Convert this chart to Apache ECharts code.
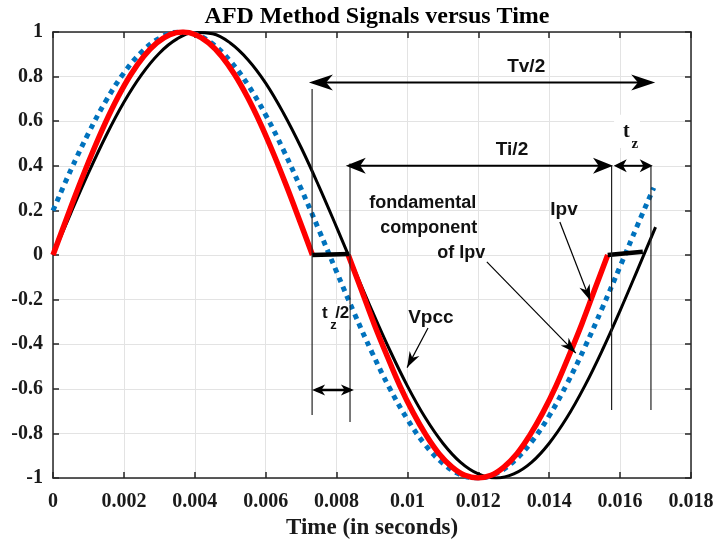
<!DOCTYPE html>
<html>
<head>
<meta charset="utf-8">
<script src="https://cdn.jsdelivr.net/npm/echarts@6/dist/echarts.min.js"></script>
<style>
  html, body { margin: 0; padding: 0; background: #fff; }
  #chart { width: 714px; height: 545px; }
</style>
</head>
<body>
<div id="chart"></div>
<script>
// Grid voltage Vpcc (60 Hz), sampled every 0.5 ms
const timeV = [0, 0.0005, 0.001, 0.0015, 0.002, 0.0025, 0.003, 0.0035, 0.004, 0.0045,
  0.005, 0.0055, 0.006, 0.0065, 0.007, 0.0075, 0.008, 0.0085, 0.009, 0.0095,
  0.01, 0.0105, 0.011, 0.0115, 0.012, 0.0125, 0.013, 0.0135, 0.014, 0.0145,
  0.015, 0.0155, 0.016, 0.0165, 0.017];
const vpcc = [0, 0.187, 0.368, 0.536, 0.685, 0.809, 0.905, 0.969, 0.998, 0.992,
  0.951, 0.876, 0.771, 0.637, 0.482, 0.309, 0.125, -0.063, -0.249, -0.426,
  -0.588, -0.729, -0.844, -0.930, -0.982, -1, -0.982, -0.930, -0.844, -0.729,
  -0.588, -0.426, -0.249, -0.063, 0.125];

// Fundamental component of Ipv
const timeF = [0, 0.0005, 0.001, 0.0015, 0.002, 0.0025, 0.003, 0.0035, 0.004, 0.0045,
  0.005, 0.0055, 0.006, 0.0065, 0.007, 0.0075, 0.008, 0.0085, 0.009, 0.0095,
  0.01, 0.0105, 0.011, 0.0115, 0.012, 0.0125, 0.013, 0.0135, 0.014, 0.0145,
  0.015, 0.0155, 0.016, 0.0165, 0.01695];
const ipvFund = [0.199, 0.380, 0.546, 0.693, 0.816, 0.910, 0.972, 0.999, 0.991, 0.947,
  0.870, 0.763, 0.628, 0.471, 0.297, 0.113, -0.075, -0.261, -0.437, -0.598,
  -0.737, -0.851, -0.934, -0.985, -1.000, -0.980, -0.925, -0.838, -0.721, -0.578,
  -0.415, -0.237, -0.051, 0.137, 0.302];

// Inverter current Ipv: positive half-cycle
const timeI1 = [0, 0.000366, 0.000732, 0.001098, 0.001464, 0.00183, 0.002196, 0.002562,
  0.002928, 0.003294, 0.00366, 0.004026, 0.004392, 0.004758, 0.005124, 0.00549,
  0.005856, 0.006222, 0.006588, 0.006954, 0.00732];
const ipv1 = [0, 0.156, 0.309, 0.454, 0.588, 0.707, 0.809, 0.891, 0.951, 0.988, 1,
  0.988, 0.951, 0.891, 0.809, 0.707, 0.588, 0.454, 0.309, 0.156, 0];

// Inverter current Ipv: negative half-cycle
const timeI2 = [0.00833, 0.0087, 0.00906, 0.00943, 0.00979, 0.01016, 0.01053, 0.01089,
  0.01126, 0.01162, 0.01199, 0.01236, 0.01272, 0.01309, 0.01345, 0.01382,
  0.01419, 0.01455, 0.01492, 0.01528, 0.01565];
const ipv2 = [0, -0.156, -0.309, -0.454, -0.588, -0.707, -0.809, -0.891, -0.951, -0.988, -1,
  -0.988, -0.951, -0.891, -0.809, -0.707, -0.588, -0.454, -0.309, -0.156, 0];

// Dead zones where Ipv is held at zero
const dead1T = [0.00731, 0.00836];
const dead1V = [0, 0.005];
const dead2T = [0.01565, 0.01664];
const dead2V = [0, 0.015];

// Tick labels
const xTickLabels = ['0', '0.002', '0.004', '0.006', '0.008', '0.01', '0.012', '0.014', '0.016', '0.018'];
const yTickLabels = ['-1', '-0.8', '-0.6', '-0.4', '-0.2', '0', '0.2', '0.4', '0.6', '0.8', '1'];

const zip = (xs, ys) => xs.map((x, i) => [x, ys[i]]);

const SERIF = "'Liberation Serif', 'Times New Roman', serif";
const SANS = "'Liberation Sans', Arial, sans-serif";
const AXIS_COLOR = '#262626';

const chart = echarts.init(document.getElementById('chart'), null, { renderer: 'canvas' });

const tickLabelStyle = {
  fontFamily: SERIF, fontWeight: 'bold', fontSize: 20, color: '#1a1a1a'
};

const baseX = {
  type: 'value', min: 0, max: 0.018, interval: 0.002,
  axisLine: { onZero: false, lineStyle: { color: AXIS_COLOR, width: 1.5 } },
  axisTick: { inside: true, length: 6, lineStyle: { color: AXIS_COLOR, width: 1.5 } }
};
const baseY = {
  type: 'value', min: -1, max: 1, interval: 0.2,
  axisLine: { onZero: false, lineStyle: { color: AXIS_COLOR, width: 1.5 } },
  axisTick: { inside: true, length: 6, lineStyle: { color: AXIS_COLOR, width: 1.5 } }
};

chart.setOption({
  animation: false,
  backgroundColor: '#fff',
  title: {
    text: 'AFD Method Signals versus Time',
    left: 372, top: 0, textAlign: 'center',
    textStyle: { fontFamily: SERIF, fontWeight: 'bold', fontSize: 24, color: '#000' }
  },
  grid: { left: 53, right: 23, top: 32, bottom: 67, outerBoundsMode: 'none' },
  xAxis: [
    Object.assign({}, baseX, {
      position: 'bottom',
      name: 'Time (in seconds)', nameLocation: 'middle', nameGap: 39,
      nameTextStyle: { fontFamily: SERIF, fontWeight: 'bold', fontSize: 23, color: '#1a1a1a' },
      axisLabel: Object.assign({ margin: 14, formatter: v => xTickLabels[Math.round(v / 0.002)] }, tickLabelStyle),
      splitLine: { show: true, lineStyle: { color: '#e3e3e3', width: 1 } }
    }),
    Object.assign({}, baseX, {
      position: 'top', axisLabel: { show: false }, splitLine: { show: false }
    })
  ],
  yAxis: [
    Object.assign({}, baseY, {
      position: 'left',
      axisLabel: Object.assign({ margin: 10, formatter: v => yTickLabels[Math.round((v + 1) / 0.2)] }, tickLabelStyle),
      splitLine: { show: true, lineStyle: { color: '#e3e3e3', width: 1 } }
    }),
    Object.assign({}, baseY, {
      position: 'right', axisLabel: { show: false }, splitLine: { show: false }
    })
  ],
  series: [
    {
      name: 'Vpcc', type: 'line', data: zip(timeV, vpcc), showSymbol: false, smooth: 0.4,
      lineStyle: { color: '#000', width: 3 }, z: 2
    },
    {
      name: 'fondamental component of Ipv', type: 'line', data: zip(timeF, ipvFund), showSymbol: false, smooth: 0.4,
      lineStyle: { color: '#0072BD', width: 5, type: [5, 5], cap: 'butt' }, z: 3
    },
    {
      name: 'Ipv', type: 'line', data: zip(timeI1, ipv1), showSymbol: false, smooth: 0.4,
      lineStyle: { color: '#ff0000', width: 5.5 }, z: 4
    },
    {
      name: 'Ipv ', type: 'line', data: zip(timeI2, ipv2), showSymbol: false, smooth: 0.4,
      lineStyle: { color: '#ff0000', width: 5.5 }, z: 4
    },
    {
      name: 'dead zone 1', type: 'line', data: zip(dead1T, dead1V), showSymbol: false,
      lineStyle: { color: '#000', width: 4.5 }, z: 5
    },
    {
      name: 'dead zone 2', type: 'line', data: zip(dead2T, dead2V), showSymbol: false,
      lineStyle: { color: '#000', width: 4.5 }, z: 5
    }
  ]
});

// ---- Annotations (anchored in data coordinates) ----
const px = (t, v) => chart.convertToPixel({ xAxisIndex: 0, yAxisIndex: 0 }, [t, v]);

// vertical guide lines: [time, top value, bottom value]
const guides = [
  [0.00731, 0.744, -0.717],
  [0.00838, 0.41, -0.749],
  [0.01576, 0.40, -0.695],
  [0.01687, 0.40, -0.695]
];
// double-headed span arrows: [t start, t end, value, head length, head width, line width]
const spans = [
  [0.00722, 0.01699, 0.773, 24, 16, 2],
  [0.00826, 0.01580, 0.40, 20, 16, 2],
  [0.01582, 0.01692, 0.40, 13, 13, 2],
  [0.00731, 0.00849, -0.605, 13, 11, 2.5]
];
// pointer arrows: [t from, v from, t to, v to]
const pointers = [
  [0.01224, -0.031, 0.01475, -0.440],
  [0.01430, 0.148, 0.01516, -0.205],
  [0.01058, -0.327, 0.00999, -0.505]
];
// text labels: [text, t, v, font family, size, align]
const labels = [
  ['Tv/2', 0.01335, 0.843, SANS, 19, 'center'],
  ['Ti/2', 0.01295, 0.471, SANS, 19, 'center'],
  ['fondamental', 0.00892, 0.233, SANS, 18, 'left'],
  ['component', 0.00923, 0.121, SANS, 18, 'left'],
  ['of Ipv', 0.01084, 0.009, SANS, 18, 'left'],
  ['Ipv', 0.01403, 0.202, SANS, 19, 'left'],
  ['Vpcc', 0.01002, -0.283, SANS, 19, 'left']
];

function head(tip, from, L, W, notch) {
  const dx = tip[0] - from[0], dy = tip[1] - from[1];
  const len = Math.hypot(dx, dy);
  const ux = dx / len, uy = dy / len, nx = -uy, ny = ux;
  const bx = tip[0] - ux * L, by = tip[1] - uy * L;
  return {
    type: 'polygon', z: 110,
    shape: { points: [tip, [bx + nx * W / 2, by + ny * W / 2],
      [tip[0] - ux * L * notch, tip[1] - uy * L * notch], [bx - nx * W / 2, by - ny * W / 2]] },
    style: { fill: '#000' }
  };
}
function seg(a, b, w, color) {
  return { type: 'line', z: 105, shape: { x1: a[0], y1: a[1], x2: b[0], y2: b[1] },
    style: { stroke: color || '#000', lineWidth: w } };
}
function txt(s, x, y, family, size, align) {
  return { type: 'text', z: 120, x: x, y: y,
    style: { text: s, fontFamily: family, fontWeight: 'bold', fontSize: size, fill: '#111',
      align: align, verticalAlign: 'middle', textAlign: align, textVerticalAlign: 'middle' } };
}

function buildAnnotations() {
  const els = [];
  guides.forEach(g => {
    els.push(seg(px(g[0], g[1]), px(g[0], g[2]), 1.2, '#222'));
  });
  // white backing behind the t_z labels
  const bz = px(0.01583, 0.629), bz2 = px(0.01656, 0.48);
  els.push({ type: 'rect', z: 108, shape: { x: bz[0], y: bz[1], width: bz2[0] - bz[0], height: bz2[1] - bz[1] }, style: { fill: '#fff' } });
  const bh = px(0.00747, -0.22), bh2 = px(0.00836, -0.335);
  els.push({ type: 'rect', z: 108, shape: { x: bh[0], y: bh[1], width: bh2[0] - bh[0], height: bh2[1] - bh[1] }, style: { fill: '#fff' } });

  spans.forEach(s => {
    const a = px(s[0], s[2]), b = px(s[1], s[2]);
    els.push(seg([a[0] + 4, a[1]], [b[0] - 4, b[1]], s[5]));
    els.push(head(a, b, s[3], s[4], 0.72));
    els.push(head(b, a, s[3], s[4], 0.72));
  });
  pointers.forEach(p => {
    const a = px(p[0], p[1]), b = px(p[2], p[3]);
    els.push(seg(a, b, 1.2));
    els.push(head(b, a, 16, 11, 0.7));
  });
  labels.forEach(l => {
    const p = px(l[1], l[2]);
    els.push(txt(l[0], p[0], p[1], l[3], l[4], l[5]));
  });
  // t_z and t_z/2 with subscripts
  let p = px(0.01608, 0.552);
  els.push(txt('t', p[0], p[1], SERIF, 20, 'left'));
  p = px(0.01632, 0.496);
  els.push(txt('z', p[0], p[1], SERIF, 15, 'left'));
  p = px(0.00759, -0.26);
  els.push(txt('t', p[0], p[1], SANS, 17, 'left'));
  p = px(0.00782, -0.314);
  els.push(txt('z', p[0], p[1], SANS, 13, 'left'));
  p = px(0.00796, -0.26);
  els.push(txt('/2', p[0], p[1], SANS, 17, 'left'));
  return els;
}

chart.setOption({ graphic: { elements: buildAnnotations() } });
</script>
</body>
</html>
